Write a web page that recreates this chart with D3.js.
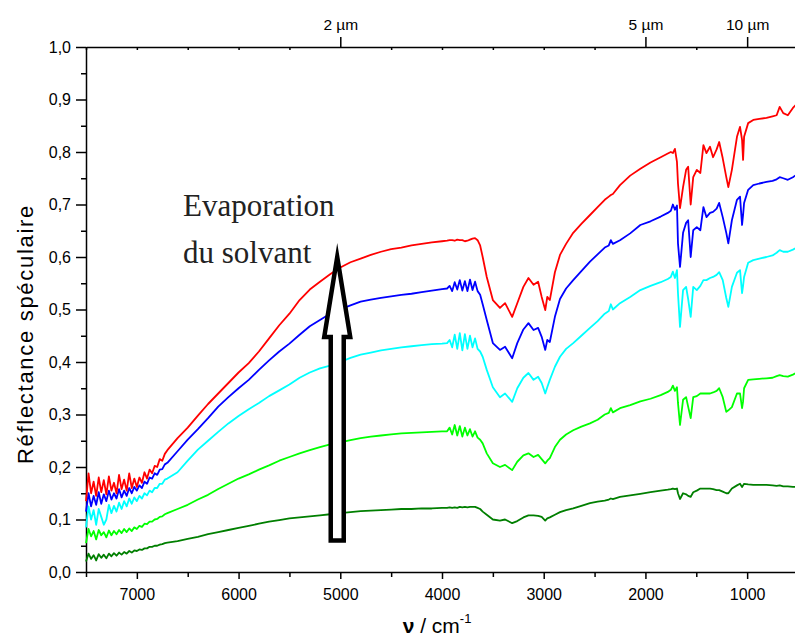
<!DOCTYPE html>
<html>
<head>
<meta charset="utf-8">
<script src="https://cdn.jsdelivr.net/npm/d3@7"></script>
<style>
  html, body { margin: 0; padding: 0; background: #fff; }
  svg { display: block; }
  .axis text { font-family: "Liberation Sans", Arial, sans-serif; font-size: 16px; fill: #000; }
  .axis path, .axis line { stroke: #000; stroke-width: 1.5px; }
  .spectrum { fill: none; stroke-width: 1.8px; stroke-linejoin: round; }
</style>
</head>
<body>
<div id="chart"></div>
<script>
// wavenumber grid (cm-1), shared by all spectra
const wavenumbers = [
  7500,7475,7450,7425,7400,7375,7350,7325,7300,7275,7250,7225,7200,7175,7150,7125,7100,7075,7050,7025,7000,6975,6950,6925,6900,6875,6850,6825,6800,6775,6750,6725,6700,
  6600,6500,6400,6300,6200,6100,6000,5900,5800,5700,5600,5500,5400,5300,5200,5100,5000,4900,4800,4700,4600,4500,4400,4300,4200,4100,4000,
  3950,3925,3900,3875,3850,3825,3800,3775,3750,3725,3700,3675,3650,3625,
  3600,3560,3500,3430,3380,3310,3260,3200,3150,3100,3055,3020,2985,2965,2940,2890,2840,2780,2710,2630,2545,2470,2400,2360,2340,2320,2250,2150,2050,1950,1850,1780,
  1750,1730,1710,1690,1680,1660,1630,1600,1580,1555,1530,1495,1460,1430,1400,1365,1335,1300,1275,1240,1205,1185,1150,1100,1070,1050,1040,1030,990,940,880,810,750,710,680,645,600,550,520
];

const red = [
  .135,.188,.150,.172,.145,.180,.152,.175,.148,.182,.155,.170,.150,.185,.158,.176,.155,.188,.160,.178,.162,.180,.170,.190,.178,.195,.188,.202,.200,.215,.212,.225,.232,
  .255,.275,.298,.320,.340,.360,.380,.398,.420,.445,.470,.492,.518,.538,.553,.567,.580,.590,.597,.604,.610,.615,.618,.622,.625,.628,.630,
  .631,.632,.632,.631,.633,.632,.632,.630,.631,.633,.635,.636,.632,.622,
  .600,.562,.518,.503,.512,.486,.512,.543,.560,.547,.553,.524,.499,.524,.518,.571,.604,.625,.646,.663,.680,.695,.709,.715,.718,.720,.737,.755,.768,.780,.790,.797,
  .800,.798,.806,.781,.740,.693,.733,.766,.772,.700,.752,.766,.760,.813,.798,.810,.790,.805,.819,.788,.752,.733,.766,.829,.848,.823,.785,.829,.855,.861,.863,.865,.868,.870,.886,.874,.870,.884,.890
];

const blue = [
  .115,.150,.125,.145,.128,.152,.130,.148,.135,.155,.138,.150,.140,.158,.142,.155,.145,.160,.150,.162,.155,.165,.160,.172,.168,.180,.178,.188,.185,.195,.196,.205,.208,
  .230,.252,.272,.293,.315,.333,.350,.366,.385,.403,.420,.435,.452,.468,.480,.492,.500,.508,.515,.519,.522,.525,.528,.530,.533,.536,.539,
  .540,.545,.535,.552,.538,.556,.536,.554,.535,.557,.537,.553,.535,.528,
  .510,.480,.436,.423,.429,.407,.436,.462,.474,.461,.465,.448,.423,.442,.438,.486,.520,.540,.556,.573,.591,.605,.618,.622,.632,.625,.632,.645,.661,.668,.677,.684,
  .688,.700,.690,.698,.626,.581,.646,.665,.670,.600,.651,.657,.651,.695,.676,.684,.686,.692,.703,.676,.646,.626,.670,.709,.715,.661,.680,.703,.728,.737,.740,.743,.745,.748,.752,.750,.747,.752,.756
];

const cyan = [
  .085,.125,.100,.118,.090,.120,.105,.090,.100,.128,.112,.126,.115,.132,.120,.135,.125,.140,.130,.142,.135,.145,.140,.150,.146,.155,.152,.160,.160,.168,.168,.176,.178,
  .190,.212,.233,.250,.267,.283,.297,.310,.322,.335,.346,.357,.370,.380,.388,.393,.400,.408,.414,.418,.422,.425,.428,.430,.432,.434,.435,
  .436,.442,.428,.452,.425,.455,.422,.453,.425,.450,.428,.445,.425,.420,
  .410,.385,.352,.333,.340,.324,.350,.370,.379,.366,.372,.360,.340,.352,.366,.391,.410,.425,.436,.450,.465,.478,.492,.497,.510,.500,.512,.524,.537,.545,.552,.558,
  .562,.572,.560,.575,.531,.467,.537,.543,.520,.486,.543,.537,.545,.556,.556,.560,.562,.566,.571,.556,.522,.505,.543,.570,.575,.531,.545,.562,.589,.594,.597,.600,.603,.608,.613,.610,.610,.614,.617
];

const lime = [
  .055,.082,.068,.078,.062,.080,.070,.076,.066,.079,.070,.078,.072,.080,.074,.082,.076,.083,.078,.085,.082,.088,.086,.092,.091,.096,.096,.100,.101,.105,.106,.110,.112,
  .120,.128,.138,.147,.158,.168,.178,.186,.195,.203,.212,.219,.226,.232,.238,.243,.247,.251,.255,.258,.260,.262,.264,.265,.266,.267,.268,
  .268,.275,.262,.280,.260,.278,.258,.275,.260,.272,.258,.268,.256,.252,
  .245,.226,.207,.200,.204,.194,.210,.222,.226,.219,.223,.215,.207,.212,.217,.238,.252,.262,.270,.277,.283,.290,.300,.303,.312,.304,.312,.318,.325,.330,.337,.343,
  .347,.355,.345,.352,.322,.280,.328,.333,.315,.293,.333,.335,.340,.340,.340,.340,.342,.345,.350,.333,.305,.308,.314,.340,.340,.312,.325,.350,.366,.367,.368,.369,.370,.373,.375,.373,.372,.376,.379
];

const darkGreen = [
  .020,.035,.025,.032,.022,.034,.027,.033,.026,.035,.030,.036,.031,.037,.033,.038,.035,.040,.037,.041,.040,.043,.042,.045,.045,.048,.048,.050,.050,.052,.053,.055,.056,
  .059,.063,.067,.072,.076,.080,.084,.088,.092,.096,.099,.102,.104,.106,.108,.110,.112,.114,.116,.117,.118,.119,.120,.120,.121,.121,.122,
  .122,.123,.122,.123,.122,.124,.123,.124,.123,.124,.124,.124,.122,.120,
  .115,.109,.100,.098,.100,.093,.097,.104,.108,.108,.107,.105,.098,.102,.104,.109,.114,.118,.121,.126,.131,.134,.136,.138,.140,.139,.143,.146,.149,.152,.155,.157,
  .158,.159,.158,.159,.150,.139,.150,.148,.145,.143,.152,.155,.159,.159,.159,.159,.158,.156,.156,.153,.150,.150,.159,.165,.168,.162,.165,.168,.167,.166,.166,.166,.165,.164,.165,.163,.163,.162,.162
];

const series = [
  { name: "dark green", values: darkGreen, color: "#007f00" },
  { name: "lime", values: lime, color: "#00ff00" },
  { name: "cyan", values: cyan, color: "#00ffff" },
  { name: "blue", values: blue, color: "#0000ff" },
  { name: "red", values: red, color: "#ff0000" }
];

// axis ticks
const xMajor = [7000, 6000, 5000, 4000, 3000, 2000, 1000];
const xMinor = [7500, 6500, 5500, 4500, 3500, 2500, 1500, 500];
const yMajor = [0, 0.1, 0.2, 0.3, 0.4, 0.5, 0.6, 0.7, 0.8, 0.9, 1.0];
const yMinor = [0.05, 0.15, 0.25, 0.35, 0.45, 0.55, 0.65, 0.75, 0.85, 0.95];
const wavelengths = [2, 5, 10]; // µm, on the top axis

// annotation arrow (wavenumber, reflectance)
const arrowAt = 5030;
const arrowFrom = 0.06;
const arrowTo = 0.60;

const W = 795, H = 638;

const x = d3.scaleLinear().domain([7500, 500]).range([86, 798]);
const y = d3.scaleLinear().domain([0, 1]).range([572, 47]);

const fr = d3.formatLocale({ decimal: ",", thousands: "", grouping: [3], currency: ["", ""] });

const svg = d3.select("#chart").append("svg")
  .attr("width", W)
  .attr("height", H);

// bottom axis
svg.append("g")
  .attr("class", "axis")
  .attr("transform", "translate(0," + y(0) + ")")
  .call(d3.axisBottom(x).tickValues(xMinor).tickSize(5).tickFormat(""))
  .call(g => g.select(".domain").remove());

svg.append("g")
  .attr("class", "axis")
  .attr("transform", "translate(0," + y(0) + ")")
  .call(d3.axisBottom(x).tickValues(xMajor).tickSize(7).tickPadding(10).tickFormat(d3.format("d")).tickSizeOuter(0));

// left axis
svg.append("g")
  .attr("class", "axis")
  .attr("transform", "translate(" + x(7500) + ",0)")
  .call(d3.axisLeft(y).tickValues(yMinor).tickSize(5).tickFormat(""))
  .call(g => g.select(".domain").remove());

svg.append("g")
  .attr("class", "axis")
  .attr("transform", "translate(" + x(7500) + ",0)")
  .call(d3.axisLeft(y).tickValues(yMajor).tickSize(10).tickPadding(5).tickFormat(fr.format(".1f")).tickSizeOuter(0));

// top axis: wavelength in µm
svg.append("g")
  .attr("class", "axis")
  .attr("transform", "translate(0," + y(1) + ")")
  .call(d3.axisTop(x).tickValues(xMinor.concat(xMajor).filter(v => wavelengths.indexOf(1e4 / v) < 0)).tickSize(-3).tickFormat(""))
  .call(g => g.select(".domain").remove());

svg.append("g")
  .attr("class", "axis")
  .attr("transform", "translate(0," + y(1) + ")")
  .call(d3.axisTop(x).tickValues(wavelengths.map(l => 1e4 / l)).tickSize(10).tickPadding(7)
    .tickFormat(v => Math.round(1e4 / v) + " µm").tickSizeOuter(0))
  .call(g => g.selectAll("text").style("font-size", "15.5px"));

// spectra
const line = d3.line()
  .x((d, i) => x(wavenumbers[i]))
  .y(d => y(d));

series.forEach(s => {
  if (s.values.length !== wavenumbers.length) {
    throw new Error(s.name + " has " + s.values.length + " values, expected " + wavenumbers.length);
  }
  svg.append("path")
    .attr("class", "spectrum")
    .attr("stroke", s.color)
    .attr("d", line(s.values));
});

// hollow arrow
const ax = x(arrowAt), ay0 = y(arrowFrom), ay1 = y(arrowTo);
const shaftHalf = 6.5, headHalf = 13, headLen = 80;
svg.append("path")
  .attr("d", d3.line()([
    [ax - shaftHalf, ay0],
    [ax - shaftHalf, ay1 + headLen],
    [ax - headHalf, ay1 + headLen],
    [ax, ay1],
    [ax + headHalf, ay1 + headLen],
    [ax + shaftHalf, ay1 + headLen],
    [ax + shaftHalf, ay0]
  ]) + "Z")
  .attr("fill", "#fff")
  .attr("stroke", "#000")
  .attr("stroke-width", 4.5)
  .attr("stroke-linejoin", "miter")
  .attr("stroke-miterlimit", 10);

// annotation text
const note = svg.append("text")
  .attr("font-family", "'Liberation Serif', 'DejaVu Serif', serif")
  .attr("font-size", 31)
  .attr("fill", "#222");
note.append("tspan").attr("x", 183).attr("y", 216).text("Evaporation");
note.append("tspan").attr("x", 183).attr("y", 263).text("du solvant");

// axis titles
svg.append("text")
  .attr("transform", "translate(25,334) rotate(-90)")
  .attr("text-anchor", "middle")
  .attr("dominant-baseline", "central")
  .attr("font-family", "'Liberation Sans', Arial, sans-serif")
  .attr("font-size", 22)
  .attr("letter-spacing", 1.7)
  .text("Réflectance spéculaire");

const xt = svg.append("text")
  .attr("x", 437)
  .attr("y", 633)
  .attr("text-anchor", "middle")
  .attr("font-family", "'Liberation Sans', Arial, sans-serif")
  .attr("font-size", 21);
xt.append("tspan").attr("font-weight", "bold").text("ν");
xt.append("tspan").text(" / cm");
xt.append("tspan").attr("dy", -10).attr("font-size", 13).text("-1");
</script>
</body>
</html>
